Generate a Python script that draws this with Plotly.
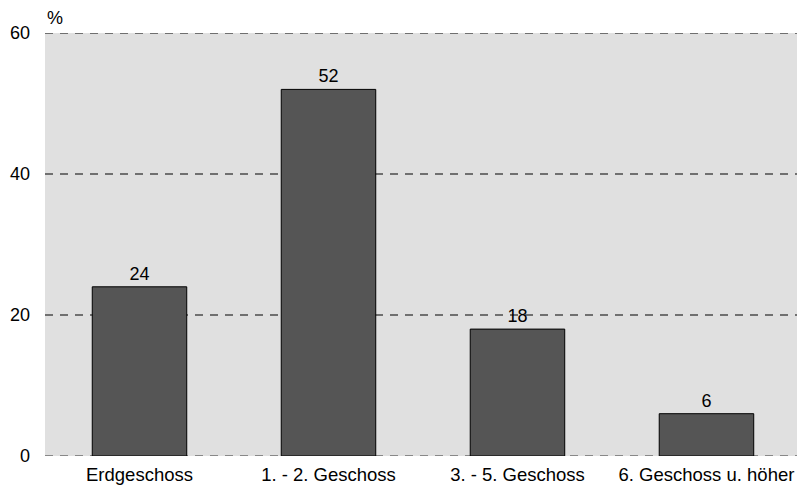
import plotly.graph_objects as go

# Share of dwellings by floor level (%)
categories = ["Erdgeschoss", "1. - 2. Geschoss", "3. - 5. Geschoss", "6. Geschoss u. höher"]
shares = [24, 52, 18, 6]
y_ticks = [0, 20, 40, 60]
y_unit = "%"

FONT = "Liberation Sans, Arial, sans-serif"

fig = go.Figure(
    go.Bar(
        x=categories,
        y=shares,
        text=[str(v) for v in shares],
        textposition="outside",
        textfont=dict(family=FONT, size=18, color="#000000"),
        marker=dict(color="#555555", line=dict(color="#000000", width=1)),
        cliponaxis=False,
        hoverinfo="skip",
    )
)

# dashed horizontal guides behind the bars
for v in y_ticks:
    fig.add_shape(
        type="line", xref="paper", x0=0, x1=1, yref="y", y0=v, y1=v,
        line=dict(color="#888888" if v == 0 else "#000000",
                  width=2 if v == 0 else 1.2, dash="8px,7px"),
        layer="below",
    )

fig.add_annotation(
    text=y_unit, xref="paper", yref="paper", x=0, y=1,
    xanchor="left", yanchor="bottom", yshift=3, showarrow=False,
    font=dict(family=FONT, size=18, color="#000000"),
)

fig.update_layout(
    width=797, height=488,
    margin=dict(l=45, r=0, t=33, b=32),
    paper_bgcolor="#ffffff",
    plot_bgcolor="#e0e0e0",
    bargap=0.5,
    showlegend=False,
    font=dict(family=FONT, size=18, color="#000000"),
    xaxis=dict(range=[-0.5, 3.479], showgrid=False, zeroline=False,
               showline=False, ticks="", ticklabelstandoff=5,
               tickfont=dict(size=18.5)),
    yaxis=dict(range=[0, 60], tickvals=y_ticks, showgrid=False,
               zeroline=False, showline=False, ticks="",
               ticklabelstandoff=14, tickfont=dict(size=18)),
)

fig.write_html("out.html")
